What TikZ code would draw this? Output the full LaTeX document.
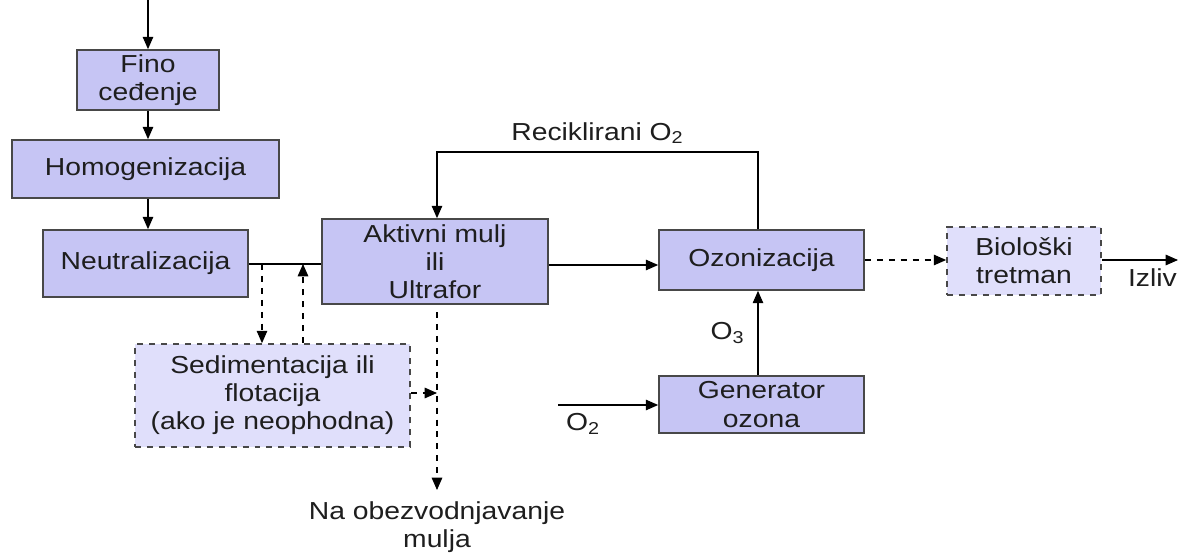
\documentclass[tikz,border=0pt]{standalone}
\usepackage{fontspec}
\setmainfont{Liberation Sans}[FakeStretch=1.15]
\usetikzlibrary{positioning, arrows.meta, calc}
\definecolor{Cb}{RGB}{198,197,244}
\definecolor{Cl}{RGB}{224,223,251}
\definecolor{Cbdr}{RGB}{72,72,72}
\definecolor{Ctx}{RGB}{30,30,30}
\tikzset{
  Bx/.style n args={2}{draw=Cbdr, fill=Cb, line width=1pt,
    minimum width=#1, minimum height=#2,
    align=center, inner sep=2pt, text=Ctx,
    font=\fontsize{14}{16}\selectfont},
  Bd/.style n args={2}{Bx={#1}{#2}, fill=Cl,
    dash pattern=on 3.4pt off 3.4pt},
  lbl/.style={text=Ctx, font=\fontsize{14}{16}\selectfont, align=center},
  a/.style={-{Triangle[length=7pt,width=6pt]}, line width=0.6pt, color=black},
  ad/.style={a, dash pattern=on 3.4pt off 3.4pt},
  ln/.style={line width=0.6pt, color=black}
}

\begin{document}
\begin{tikzpicture}[x=0.02cm, y=-0.02cm]
\clip (0,0) rectangle (1178,552);

% ---------------------------------------------------------------
%  left column: pretreatment
% ---------------------------------------------------------------
\coordinate (In) at (148,0);
\node[Bx={2.84cm}{1.2cm}]  (Fino) at (148,80)    {Fino\\ceđenje};
\node[Bx={5.34cm}{1.16cm}] (Homo) at (145.5,169) {Homogenizacija};
\node[Bx={4.1cm}{1.34cm}]  (Neut) at (145.5,263.5) {Neutralizacija};
\node[Bd={5.5cm}{2.06cm}]  (Sed)  at (272.5,395.5)
  {Sedimentacija ili\\flotacija\\(ako je neophodna)};

\draw[a] (In) -- (Fino.north);
\draw[a] (Fino.south) -- (Fino.south |- Homo.north);
\draw[a] (Homo.south -| Fino.south) -- (Fino.south |- Neut.north);

% ---------------------------------------------------------------
%  middle: activated sludge + ozonation
% ---------------------------------------------------------------
\node[Bx={4.52cm}{1.7cm}] (Akt)  at (435,261.5) {Aktivni mulj\\ili\\Ultrafor};
\node[Bx={4.1cm}{1.2cm}]  (Ozon) at (761.5,260)   {Ozonizacija};
\node[Bx={4.1cm}{1.14cm}] (Gen)  at (761.5,404.5) {Generator\\ozona};

\coordinate (Nr)  at (Neut.east |- 0,264);
\coordinate (Sd)  at (262,264);
\coordinate (Su)  at (303,264);
\coordinate (Mt)  at (437,312);
\coordinate (Mb)  at (437,490);
\coordinate (Ms)  at (437,393);
\coordinate (O2)  at (558,405);

\draw[ln] (Nr) -- (Nr -| Akt.west);
\draw[ad] (Sd) -- (Sd |- Sed.north);
\draw[ad] (Su |- Sed.north) -- (Su);
\draw[ad] (Mt) -- (Mb);
\draw[ad] (Sed.east |- Ms) -- (Ms);
\node[lbl, below=3pt of Mb] (Mul) {Na obezvodnjavanje\\mulja};

\draw[a] (Akt.east |- 0,265) -- (Ozon.west |- 0,265);
\draw[a] (Ozon.north -| 758,0) -- (758,152) -| (Akt.north -| 437,0)
  node[lbl, pos=0.25, above=1pt] (Rec) {Reciklirani O\textsubscript{2}};
\draw[a] (Gen.north -| 758,0) -- (Ozon.south -| 758,0)
  node[lbl, midway, left=4pt] (O3) {O\textsubscript{3}};
\draw[a] (O2) -- (O2 -| Gen.west)
  node[lbl, pos=0.25, below=1pt] (O2l) {O\textsubscript{2}};

% ---------------------------------------------------------------
%  right: biological treatment
% ---------------------------------------------------------------
\node[Bd={3.08cm}{1.36cm}] (Bio) at (1024,261) {Biološki\\tretman};
\coordinate (Out) at (1178,260);

\draw[ad] (Ozon.east |- 0,260) -- (Bio.west |- 0,260);
\draw[a] (Bio.east |- Out) -- (Out);
\node[lbl, anchor=west, inner sep=1pt] (Izl) at (1126,278) {Izliv};

\end{tikzpicture}
\end{document}
